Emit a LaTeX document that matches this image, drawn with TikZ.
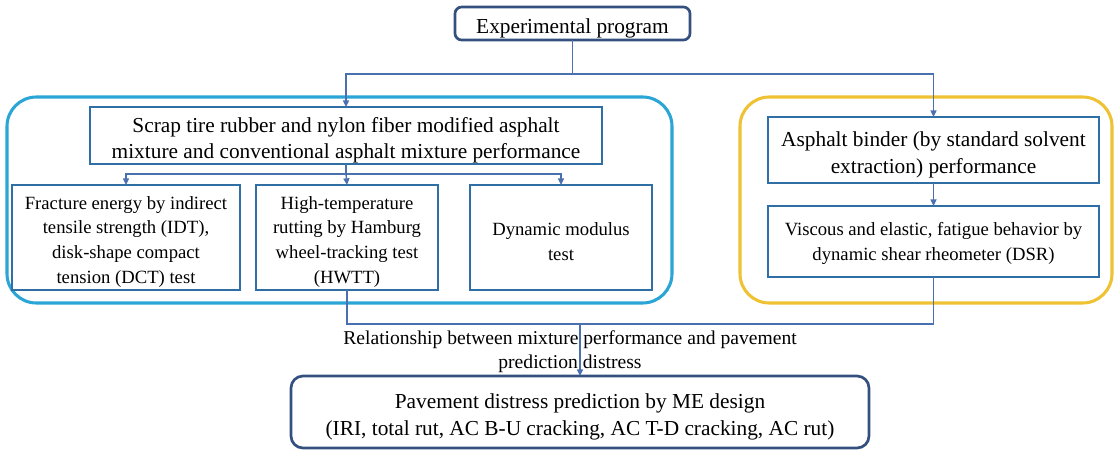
\documentclass[tikz,border=0pt]{standalone}
\usepackage{fontspec}
\setmainfont{Liberation Serif}
\usetikzlibrary{arrows.meta}
\definecolor{navy}{HTML}{34507F}
\definecolor{cyanbox}{HTML}{2AA5D6}
\definecolor{yelbox}{HTML}{EEC232}
\definecolor{inbox}{HTML}{2F6FA6}
\definecolor{conn}{HTML}{4A70B0}
\newcommand{\lowstrut}{\rule{0pt}{1.15em}}
\tikzset{
  px/.style={x=0.75pt,y=-0.75pt},
  box/.style={draw=inbox,line width=1.1pt,inner sep=0pt,outer sep=0pt,align=center,anchor=center},
  topbox/.style={draw=navy,line width=2pt,rounded corners=5pt,inner sep=0pt,outer sep=0pt,align=center,anchor=center},
  frame/.style={line width=2.3pt,rounded corners=22pt},
  link/.style={draw=conn,line width=1pt},
  arr/.style={link,-{Triangle[length=5pt,width=4.5pt]}},
  big/.style={font=\fontsize{16}{20}\selectfont},
  small/.style={font=\fontsize{14}{18.4}\selectfont},
}
\begin{document}
\begin{tikzpicture}[px]
\useasboundingbox (0,0) rectangle (1118,454);
% containers
\draw[frame,draw=cyanbox] (7,97) rectangle (672,303);
\draw[frame,draw=yelbox] (740,97) rectangle (1112,303);
% nodes
\node[topbox,big,minimum width=176.25pt,minimum height=24.75pt] (exp) at (572.5,23.5) {\lowstrut Experimental program};
\node[box,big,minimum width=384pt,minimum height=42.75pt] (scrap) at (346,135.5) {\lowstrut Scrap tire rubber and nylon fiber modified asphalt\\mixture and conventional asphalt mixture performance};
\node[box,small,minimum width=171pt,minimum height=78.75pt] (sub1) at (126,237.5) {\lowstrut Fracture energy by indirect\\tensile strength (IDT),\\disk-shape compact\\tension (DCT) test};
\node[box,small,minimum width=136.5pt,minimum height=78.75pt] (sub2) at (347,237.5) {\lowstrut High-temperature\\rutting by Hamburg\\wheel-tracking test\\(HWTT)};
\node[box,small,minimum width=136.5pt,minimum height=78.75pt] (sub3) at (561,237.5) {\lowstrut Dynamic modulus\\test};
\node[box,big,minimum width=248.25pt,minimum height=49.5pt] (asph) at (933.5,150) {\lowstrut Asphalt binder (by standard solvent\\extraction) performance};
\node[box,font=\fontsize{14}{18.75}\selectfont,minimum width=248.25pt,minimum height=53.25pt] (visc) at (933.5,241.5) {\rule{0pt}{0.95em}Viscous and elastic, fatigue behavior by\\dynamic shear rheometer (DSR)};
\node[topbox,big,rounded corners=9pt,minimum width=433.5pt,minimum height=54pt] (pave) at (580,412) {\lowstrut Pavement distress prediction by ME design\\(IRI, total rut, AC B-U cracking, AC T-D cracking, AC rut)};
\node[align=center,inner sep=0pt,font=\fontsize{14.7}{18}\selectfont] (lab) at (570,351.5) {Relationship between mixture performance and pavement\\prediction distress};
% junctions
\coordinate (j1) at (572.5,74);
\coordinate (j2) at (346,174);
\coordinate (j3) at (580,324);
% connectors
\draw[link] (exp.south) -- (j1);
\draw[arr] (j1) -| (scrap.north);
\draw[arr] (j1) -| (asph.north);
\draw[link] (scrap.south) -- (j2);
\draw[arr] (j2) -| (sub1.north);
\draw[arr] (j2) -- (sub2.north);
\draw[arr] (j2) -| (sub3.north);
\draw[arr] (asph.south) -- (visc.north);
\draw[link] (sub2.south) |- (j3);
\draw[link] (visc.south) |- (j3);
\draw[arr] (j3) -- (pave.north);
\end{tikzpicture}
\end{document}
